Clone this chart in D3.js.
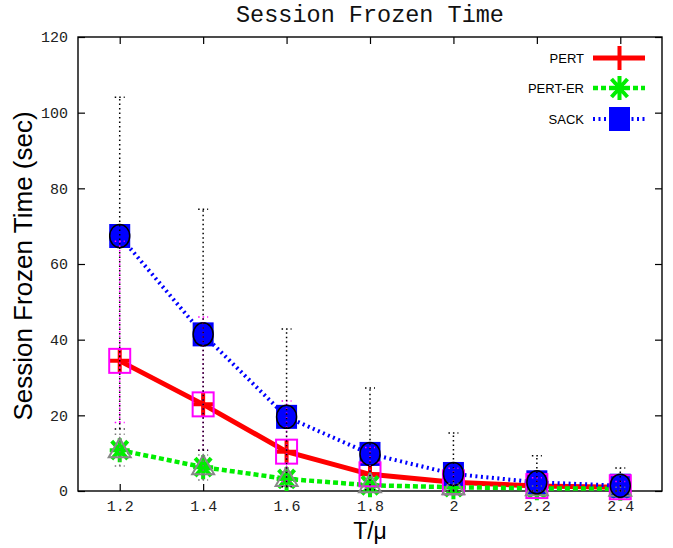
<!DOCTYPE html>
<meta charset="utf-8">
<style>

body { margin: 0; background: #fff; }
.tick text { font-family: "Liberation Mono", "DejaVu Sans Mono", monospace; font-size: 15px; fill: #222; }
.tick line { stroke: #000; stroke-width: 1.2; }

</style>
<body>
<script src="https://d3js.org/d3.v7.min.js"></script>
<script>

// T/mu values on the x axis
var ratios = [1.2, 1.4, 1.6, 1.8, 2.0, 2.2, 2.4];
var xTickLabels = ["1.2", "1.4", "1.6", "1.8", "2", "2.2", "2.4"];
var yTicks = [0, 20, 40, 60, 80, 100, 120];

// session frozen time (sec), mean and error bar ends
var pertMean   = [34.4, 22.9, 10.4, 4.4, 2.3, 1.3, 1.0];
var pertLow    = [18.1, 10.8, 2.5, 0.5, 0.1, 0, 0];
var pertHigh   = [66, 46, 23.8, 11.5, 6, 3.5, 2.5];

var pertErMean = [10.8, 6.3, 3.2, 1.5, 1.0, 0.7, 0.6];
var pertErLow  = [6.6, 2.9, 1.2, 0.3, 0.1, 0, 0];
var pertErHigh = [15, 9.5, 5, 2.8, 2, 1.3, 1];

var sackMean   = [67.4, 41.4, 19.6, 9.8, 4.5, 2.3, 1.4];
var sackLow    = [16.4, 10.8, 1.1, 0.3, 0, 0, 0];
var sackHigh   = [104.1, 74.5, 42.8, 27.2, 15.3, 9.3, 6.1];

var seriesNames = ["PERT", "PERT-ER", "SACK"];

// set the dimensions and margins of the graph
var margin = {top: 37, right: 11, bottom: 57, left: 78},
    width = 673 - margin.left - margin.right,
    height = 548 - margin.top - margin.bottom;

var x = d3.scaleLinear().domain([1.1, 2.5]).range([0, width]);
var y = d3.scaleLinear().domain([0, 120]).range([height, 0]);

var svgRoot = d3.select("body").append("svg")
    .attr("width", 673)
    .attr("height", 548);

var svg = svgRoot.append("g")
    .attr("transform", "translate(" + margin.left + "," + margin.top + ")");

// title
svgRoot.append("text")
    .attr("x", margin.left + width / 2)
    .attr("y", 22)
    .attr("text-anchor", "middle")
    .style("font-family", "'Liberation Mono', monospace")
    .style("font-size", "23.5px")
    .style("fill", "#111")
    .text("Session Frozen Time");

// axes, ticks pointing inward like gnuplot
svg.append("g")
    .attr("transform", "translate(0," + height + ")")
    .call(d3.axisBottom(x).tickValues(ratios)
        .tickFormat(function(d, i) { return xTickLabels[i]; })
        .tickSizeInner(-7).tickSizeOuter(0).tickPadding(9))
    .call(function(g) { g.select(".domain").remove(); });

svg.append("g")
    .call(d3.axisTop(x).tickValues(ratios).tickFormat("")
        .tickSizeInner(-7).tickSizeOuter(0))
    .call(function(g) { g.select(".domain").remove(); });

svg.append("g")
    .call(d3.axisLeft(y).tickValues(yTicks)
        .tickSizeInner(-7).tickSizeOuter(0).tickPadding(10))
    .call(function(g) { g.select(".domain").remove(); });

svg.append("g")
    .attr("transform", "translate(" + width + ",0)")
    .call(d3.axisRight(y).tickValues(yTicks).tickFormat("")
        .tickSizeInner(-7).tickSizeOuter(0))
    .call(function(g) { g.select(".domain").remove(); });

// frame
svg.append("rect")
    .attr("width", width)
    .attr("height", height)
    .attr("fill", "none")
    .attr("stroke", "#000")
    .attr("stroke-width", 1.4);

// axis labels
svgRoot.append("text")
    .attr("transform", "translate(32," + (margin.top + height / 2 + 2) + ") rotate(-90)")
    .attr("text-anchor", "middle")
    .style("font-family", "'Liberation Sans', Arial, sans-serif")
    .style("font-size", "26px")
    .text("Session Frozen Time (sec)");

svgRoot.append("text")
    .attr("x", margin.left + width / 2)
    .attr("y", 539)
    .attr("text-anchor", "middle")
    .style("font-family", "'Liberation Sans', Arial, sans-serif")
    .style("font-size", "23px")
    .text("T/\u03bc");

// marker shapes
var plusPath = "M-10,0H10M0,-12V12";
var starPath = "M-10,0H10M0,-12V12M-8,-9L8,9M-8,9L8,-9";

function drawPlus(g, cx, cy) {
  g.append("path").attr("d", plusPath)
    .attr("transform", "translate(" + cx + "," + cy + ")")
    .attr("stroke", "#ff0000").attr("stroke-width", 4).attr("fill", "none");
}
function drawStar(g, cx, cy) {
  g.append("path").attr("d", starPath)
    .attr("transform", "translate(" + cx + "," + cy + ")")
    .attr("stroke", "#00ee00").attr("stroke-width", 4).attr("fill", "none");
}
function drawSquare(g, cx, cy) {
  g.append("rect")
    .attr("x", cx - 10.5).attr("y", cy - 12)
    .attr("width", 21).attr("height", 24)
    .attr("fill", "#0000ff");
}

var lineSpec = [
  {name: "PERT", vals: pertMean, color: "#ff0000", width: 5, dash: null, marker: drawPlus},
  {name: "PERT-ER", vals: pertErMean, color: "#00ee00", width: 4.5, dash: "5,3", marker: drawStar},
  {name: "SACK", vals: sackMean, color: "#0000ff", width: 4, dash: "2,3.5", marker: drawSquare}
];

var line = d3.line()
    .x(function(d) { return x(d[0]); })
    .y(function(d) { return y(d[1]); });

lineSpec.forEach(function(s) {
  var pts = ratios.map(function(r, i) { return [r, s.vals[i]]; });
  svg.append("path")
      .attr("d", line(pts))
      .attr("fill", "none")
      .attr("stroke", s.color)
      .attr("stroke-width", s.width)
      .attr("stroke-dasharray", s.dash);
  var mg = svg.append("g");
  pts.forEach(function(p) { s.marker(mg, x(p[0]), y(p[1])); });
});

// error bar markers
var errG = svg.append("g");
ratios.forEach(function(r, i) {
  errG.append("rect")
      .attr("x", x(r) - 10.5).attr("y", y(pertMean[i]) - 12)
      .attr("width", 21).attr("height", 24)
      .attr("fill", "none").attr("stroke", "#ff00ff").attr("stroke-width", 2);
  var tx = x(r), ty = y(pertErMean[i]);
  errG.append("path")
      .attr("d", "M" + tx + "," + (ty - 12) + "L" + (tx + 11) + "," + (ty + 7) + "L" + (tx - 11) + "," + (ty + 7) + "Z")
      .attr("fill", "none").attr("stroke", "#888").attr("stroke-width", 2);
  errG.append("ellipse")
      .attr("cx", x(r)).attr("cy", y(sackMean[i]))
      .attr("rx", 10).attr("ry", 11.5)
      .attr("fill", "#0000ff").attr("stroke", "#000").attr("stroke-width", 1.5);
});

// dotted error bars with caps
var errSpec = [
  {low: pertLow, high: pertHigh, color: "#ff00ff"},
  {low: pertErLow, high: pertErHigh, color: "#777"},
  {low: sackLow, high: sackHigh, color: "#000"}
];

errSpec.forEach(function(e) {
  var g = svg.append("g")
      .attr("stroke", e.color)
      .attr("stroke-width", 1.5)
      .attr("stroke-dasharray", "1.5,3");
  ratios.forEach(function(r, i) {
    var cx = x(r);
    g.append("line").attr("x1", cx).attr("x2", cx)
        .attr("y1", y(e.low[i])).attr("y2", y(e.high[i]));
    [e.low[i], e.high[i]].forEach(function(v) {
      g.append("line").attr("x1", cx - 5).attr("x2", cx + 5)
          .attr("y1", y(v)).attr("y2", y(v));
    });
  });
});

// legend
var legendY = [58, 88, 119];
var legend = svgRoot.append("g");
lineSpec.forEach(function(s, i) {
  var ly = legendY[i];
  legend.append("text")
      .attr("x", 584).attr("y", ly).attr("dy", "0.35em")
      .attr("text-anchor", "end")
      .style("font-family", "'Liberation Sans', Arial, sans-serif")
      .style("font-size", "13px")
      .text(seriesNames[i]);
  legend.append("line")
      .attr("x1", 593).attr("x2", 645)
      .attr("y1", ly).attr("y2", ly)
      .attr("stroke", s.color)
      .attr("stroke-width", s.width)
      .attr("stroke-dasharray", s.dash);
  s.marker(legend, 619.5, ly);
});

</script>
</body>
